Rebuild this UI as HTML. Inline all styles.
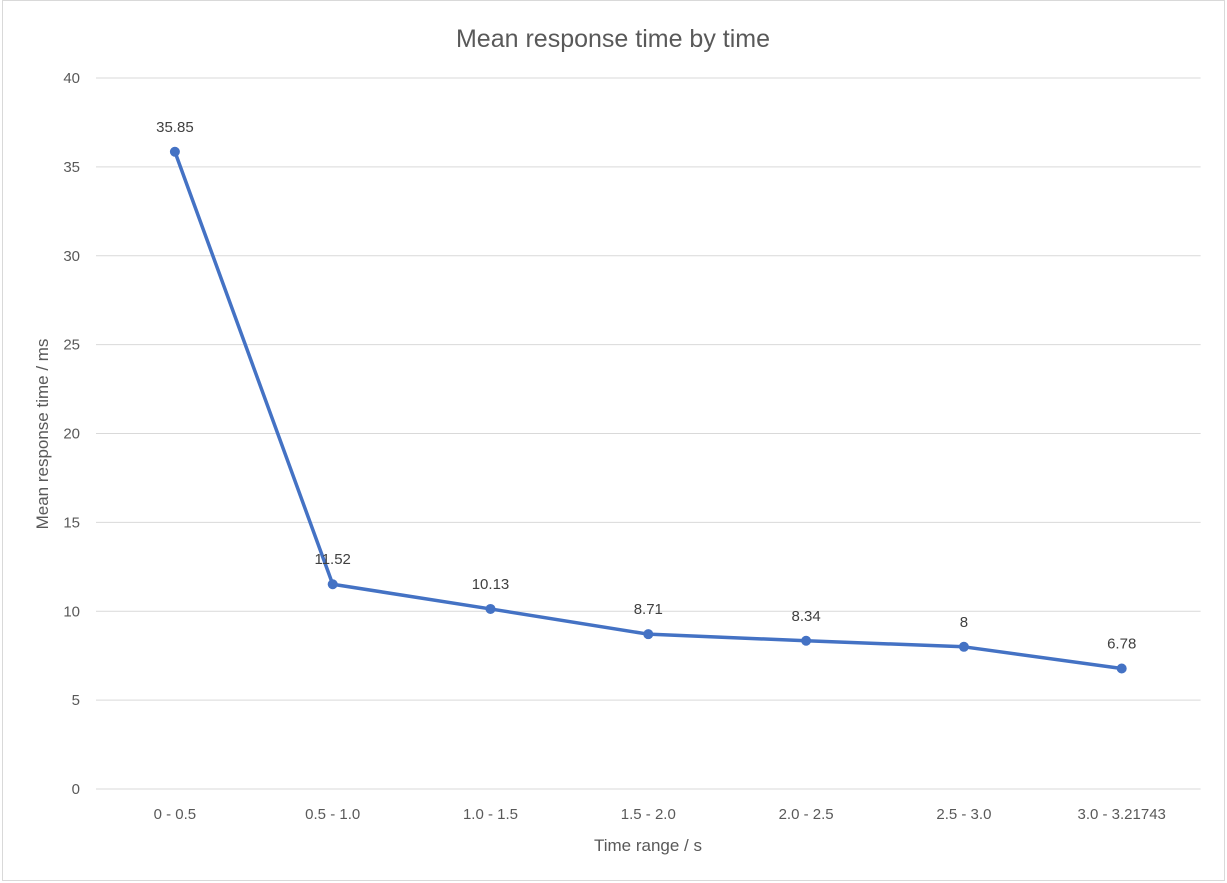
<!DOCTYPE html>
<html><head><meta charset="utf-8"><style>
body{margin:0;background:#fff;}
svg{display:block;font-family:"Liberation Sans",Arial,sans-serif;}
</style></head><body>
<svg id="chart" width="1227" height="883">
<rect x="2.5" y="0.5" width="1222" height="880" fill="#fff" stroke="#d9d9d9"/>
<text x="613" y="47" text-anchor="middle" font-size="25" fill="#595959">Mean response  time by time</text>
<g id="grid"></g><g id="yticks"></g><g id="xticks"></g><g id="series"></g>
<text x="648" y="851" text-anchor="middle" font-size="17" fill="#595959">Time range / s</text>
<text transform="translate(48,434) rotate(-90)" text-anchor="middle" font-size="17" fill="#595959">Mean response time / ms</text>
</svg>
<script>
const categories=["0 - 0.5","0.5 - 1.0","1.0 - 1.5","1.5 - 2.0","2.0 - 2.5","2.5 - 3.0","3.0 - 3.21743"];
const values=[35.85,11.52,10.13,8.71,8.34,8,6.78];
const yTicks=[0,5,10,15,20,25,30,35,40];
const NS="http://www.w3.org/2000/svg";
const L=96,R=1200.6,T=78,B=789,yMax=40;
const step=(R-L)/categories.length;
const xs=i=>L+step*(i+0.5);
const ys=v=>B-(v/yMax)*(B-T);
function mk(tag,attrs,parent,txt){const e=document.createElementNS(NS,tag);for(const k in attrs)e.setAttribute(k,attrs[k]);if(txt!=null)e.textContent=txt;document.getElementById(parent).appendChild(e);return e;}
yTicks.forEach(t=>{
  const g=mk('line',{x1:L,x2:R,y1:ys(t),y2:ys(t),stroke:'#d9d9d9','stroke-width':1},'grid');
  
  
  const l=mk('text',{x:80,y:ys(t)+5,'text-anchor':'end','font-size':15,fill:'#595959'},'yticks',String(t));
  
  
});
categories.forEach((c,i)=>{
  const l=mk('text',{x:xs(i),y:819,'text-anchor':'middle','font-size':15,fill:'#595959'},'xticks',c);
  
  
});
const pts=values.map((v,i)=>xs(i)+','+ys(v)).join(' ');
const line=mk('polyline',{points:pts,fill:'none',stroke:'#4472c4','stroke-width':3.5,'stroke-linejoin':'round'},'series');


values.forEach((v,i)=>{
  const c=mk('circle',{cx:xs(i),cy:ys(v),r:5,fill:'#4472c4'},'series');
  
  
  const t=mk('text',{x:xs(i),y:ys(v)-20,'text-anchor':'middle','font-size':15,fill:'#404040'},'series',String(v));
  
  
});
</script>
</body></html>
